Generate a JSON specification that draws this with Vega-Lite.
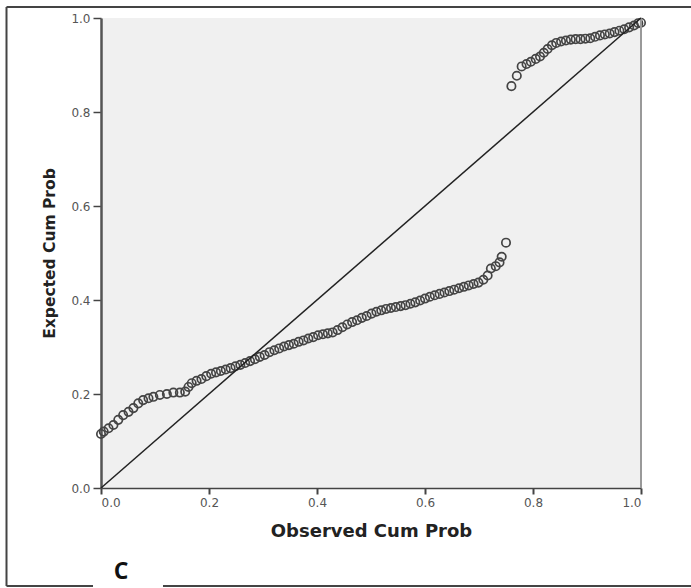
{
  "$schema": "https://vega.github.io/schema/vega-lite/v6.json",
  "width": 540,
  "height": 470,
  "autosize": {"type": "none"},
  "padding": {"left": 101, "top": 18, "right": 50, "bottom": 100},
  "background": "white",
  "config": {
    "view": {"fill": "#f0f0f0", "stroke": null},
    "axis": {"grid": false, "labelFont": "DejaVu Sans", "labelFontSize": 12, "labelColor": "#555555", "titleFont": "DejaVu Sans", "titleFontWeight": "bold", "titleColor": "#222222", "tickColor": "#444444"}
  },
  "datasets": {
    "pts": [
      {"obs": 0.0, "exp": 0.115}, {"obs": 0.005, "exp": 0.12}, {"obs": 0.014, "exp": 0.127}, {"obs": 0.023, "exp": 0.134},
      {"obs": 0.032, "exp": 0.145}, {"obs": 0.041, "exp": 0.155}, {"obs": 0.051, "exp": 0.162}, {"obs": 0.06, "exp": 0.17},
      {"obs": 0.069, "exp": 0.18}, {"obs": 0.078, "exp": 0.187}, {"obs": 0.088, "exp": 0.191}, {"obs": 0.097, "exp": 0.194},
      {"obs": 0.109, "exp": 0.198}, {"obs": 0.122, "exp": 0.2}, {"obs": 0.134, "exp": 0.203}, {"obs": 0.146, "exp": 0.203},
      {"obs": 0.156, "exp": 0.205}, {"obs": 0.162, "exp": 0.215}, {"obs": 0.168, "exp": 0.223}, {"obs": 0.177, "exp": 0.228},
      {"obs": 0.186, "exp": 0.232}, {"obs": 0.195, "exp": 0.238}, {"obs": 0.204, "exp": 0.243}, {"obs": 0.213, "exp": 0.246},
      {"obs": 0.222, "exp": 0.249}, {"obs": 0.231, "exp": 0.252}, {"obs": 0.24, "exp": 0.255}, {"obs": 0.249, "exp": 0.259},
      {"obs": 0.258, "exp": 0.262}, {"obs": 0.267, "exp": 0.266}, {"obs": 0.276, "exp": 0.27}, {"obs": 0.285, "exp": 0.274},
      {"obs": 0.294, "exp": 0.279}, {"obs": 0.303, "exp": 0.283}, {"obs": 0.312, "exp": 0.289}, {"obs": 0.321, "exp": 0.293},
      {"obs": 0.33, "exp": 0.297}, {"obs": 0.339, "exp": 0.301}, {"obs": 0.348, "exp": 0.304}, {"obs": 0.357, "exp": 0.307},
      {"obs": 0.366, "exp": 0.311}, {"obs": 0.375, "exp": 0.314}, {"obs": 0.384, "exp": 0.318}, {"obs": 0.393, "exp": 0.321},
      {"obs": 0.402, "exp": 0.325}, {"obs": 0.411, "exp": 0.327}, {"obs": 0.42, "exp": 0.329}, {"obs": 0.429, "exp": 0.331},
      {"obs": 0.438, "exp": 0.336}, {"obs": 0.447, "exp": 0.342}, {"obs": 0.456, "exp": 0.348}, {"obs": 0.465, "exp": 0.353},
      {"obs": 0.474, "exp": 0.357}, {"obs": 0.483, "exp": 0.362}, {"obs": 0.492, "exp": 0.366}, {"obs": 0.501, "exp": 0.371},
      {"obs": 0.51, "exp": 0.375}, {"obs": 0.519, "exp": 0.378}, {"obs": 0.528, "exp": 0.381}, {"obs": 0.537, "exp": 0.383},
      {"obs": 0.546, "exp": 0.385}, {"obs": 0.555, "exp": 0.387}, {"obs": 0.564, "exp": 0.389}, {"obs": 0.573, "exp": 0.392},
      {"obs": 0.582, "exp": 0.395}, {"obs": 0.591, "exp": 0.399}, {"obs": 0.6, "exp": 0.403}, {"obs": 0.609, "exp": 0.407},
      {"obs": 0.618, "exp": 0.41}, {"obs": 0.627, "exp": 0.413}, {"obs": 0.636, "exp": 0.416}, {"obs": 0.645, "exp": 0.419},
      {"obs": 0.654, "exp": 0.422}, {"obs": 0.663, "exp": 0.425}, {"obs": 0.672, "exp": 0.428}, {"obs": 0.681, "exp": 0.431},
      {"obs": 0.69, "exp": 0.434}, {"obs": 0.699, "exp": 0.437}, {"obs": 0.708, "exp": 0.443}, {"obs": 0.716, "exp": 0.452},
      {"obs": 0.722, "exp": 0.467}, {"obs": 0.731, "exp": 0.472}, {"obs": 0.738, "exp": 0.48}, {"obs": 0.742, "exp": 0.492},
      {"obs": 0.75, "exp": 0.522},
      {"obs": 0.76, "exp": 0.855}, {"obs": 0.77, "exp": 0.877}, {"obs": 0.779, "exp": 0.897}, {"obs": 0.788, "exp": 0.902},
      {"obs": 0.796, "exp": 0.907}, {"obs": 0.805, "exp": 0.913}, {"obs": 0.813, "exp": 0.918}, {"obs": 0.82, "exp": 0.926},
      {"obs": 0.827, "exp": 0.934}, {"obs": 0.835, "exp": 0.942}, {"obs": 0.843, "exp": 0.947}, {"obs": 0.852, "exp": 0.95},
      {"obs": 0.861, "exp": 0.952}, {"obs": 0.87, "exp": 0.954}, {"obs": 0.879, "exp": 0.955}, {"obs": 0.888, "exp": 0.955},
      {"obs": 0.897, "exp": 0.956}, {"obs": 0.906, "exp": 0.957}, {"obs": 0.915, "exp": 0.96}, {"obs": 0.924, "exp": 0.963},
      {"obs": 0.933, "exp": 0.965}, {"obs": 0.942, "exp": 0.967}, {"obs": 0.951, "exp": 0.97}, {"obs": 0.96, "exp": 0.973},
      {"obs": 0.969, "exp": 0.976}, {"obs": 0.978, "exp": 0.98}, {"obs": 0.987, "exp": 0.984}, {"obs": 0.995, "exp": 0.989},
      {"obs": 1.0, "exp": 0.99}
    ],
    "diag": [{"obs": 0, "exp": 0, "obs2": 1, "exp2": 1}],
    "rightedge": [{"obs": 1, "exp": 0, "obs2": 1, "exp2": 1}],
    "frame": [
      {"obs": -0.175, "exp": 1.0234, "obs2": -0.175, "exp2": -0.2085},
      {"obs": -0.175, "exp": 1.0234, "obs2": 1.0926, "exp2": 1.0234},
      {"obs": -0.175, "exp": -0.2085, "obs2": -0.0148, "exp2": -0.2085},
      {"obs": 0.1148, "exp": -0.2085, "obs2": 1.0926, "exp2": -0.2085}
    ],
    "label": [{"obs": 0.037, "exp": -0.179, "text": "C"}]
  },
  "layer": [
    {
      "data": {"name": "pts"},
      "mark": {"type": "point", "shape": "circle", "filled": false, "size": 70, "stroke": "#444444", "strokeWidth": 1.7, "opacity": 1},
      "encoding": {
        "x": {"field": "obs", "type": "quantitative", "scale": {"domain": [0, 1], "nice": false, "zero": false},
          "axis": {"title": "Observed Cum Prob", "titleFontSize": 18, "titlePadding": 14, "values": [0, 0.2, 0.4, 0.6, 0.8, 1.0], "format": ".1f", "tickSize": 6, "labelPadding": 3, "domainColor": "#444444", "domainWidth": 1.5, "tickWidth": 2}},
        "y": {"field": "exp", "type": "quantitative", "scale": {"domain": [0, 1], "nice": false, "zero": false},
          "axis": {"title": "Expected Cum Prob", "titleFontSize": 15.5, "titlePadding": 13, "values": [0, 0.2, 0.4, 0.6, 0.8, 1.0], "format": ".1f", "tickSize": 8, "labelPadding": 3, "domainColor": "#555555", "domainWidth": 2.5, "tickWidth": 1.5}}
      }
    },
    {
      "data": {"name": "rightedge"},
      "mark": {"type": "rule", "color": "#999999", "strokeWidth": 2},
      "encoding": {
        "x": {"field": "obs", "type": "quantitative", "scale": {"domain": [0, 1], "nice": false, "zero": false}},
        "y": {"field": "exp", "type": "quantitative", "scale": {"domain": [0, 1], "nice": false, "zero": false}},
        "x2": {"field": "obs2"},
        "y2": {"field": "exp2"}
      }
    },
    {
      "data": {"name": "diag"},
      "mark": {"type": "rule", "color": "#222222", "strokeWidth": 1.5},
      "encoding": {
        "x": {"field": "obs", "type": "quantitative", "scale": {"domain": [0, 1], "nice": false, "zero": false}},
        "y": {"field": "exp", "type": "quantitative", "scale": {"domain": [0, 1], "nice": false, "zero": false}},
        "x2": {"field": "obs2"},
        "y2": {"field": "exp2"}
      }
    },
    {
      "data": {"name": "frame"},
      "mark": {"type": "rule", "color": "#444444", "strokeWidth": 2, "clip": false},
      "encoding": {
        "x": {"field": "obs", "type": "quantitative", "scale": {"domain": [0, 1], "nice": false, "zero": false}},
        "y": {"field": "exp", "type": "quantitative", "scale": {"domain": [0, 1], "nice": false, "zero": false}},
        "x2": {"field": "obs2"},
        "y2": {"field": "exp2"}
      }
    },
    {
      "data": {"name": "label"},
      "mark": {"type": "text", "font": "Open Sans", "fontWeight": "bold", "fontSize": 23, "color": "#111111", "align": "center", "baseline": "middle"},
      "encoding": {
        "x": {"field": "obs", "type": "quantitative", "scale": {"domain": [0, 1], "nice": false, "zero": false}},
        "y": {"field": "exp", "type": "quantitative", "scale": {"domain": [0, 1], "nice": false, "zero": false}},
        "text": {"field": "text"}
      }
    }
  ]
}
